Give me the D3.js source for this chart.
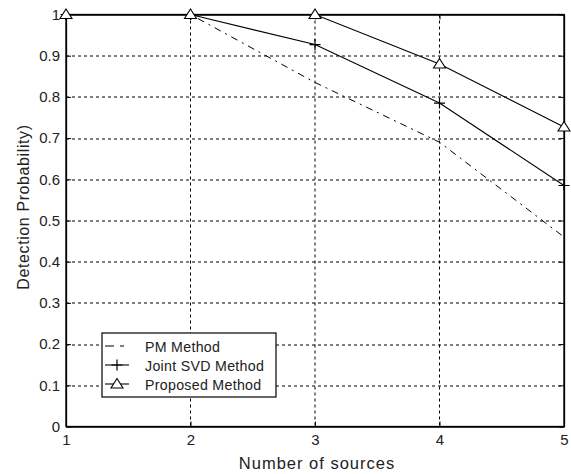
<!DOCTYPE html>
<html>
<head>
<meta charset="utf-8">
<script src="https://cdn.jsdelivr.net/npm/d3@7"></script>
<style>
  body { margin: 0; background: #fff; }
  svg { font-family: "Liberation Sans", Arial, sans-serif; }
</style>
</head>
<body>
<div id="chart"></div>
<script>
// data
var sources = [1, 2, 3, 4, 5];
var pmValues = [1, 1, 0.835, 0.69, 0.46];
var svdValues = [1, 1, 0.927, 0.785, 0.585];
var proposedValues = [1, 1, 1, 0.88, 0.727];
var yTicks = [0, 0.1, 0.2, 0.3, 0.4, 0.5, 0.6, 0.7, 0.8, 0.9, 1];
var seriesNames = ["PM Method", "Joint SVD Method", "Proposed Method"];

var width = 571, height = 474;
var margin = {top: 14.5, right: 7, bottom: 47.5, left: 66};
var w = width - margin.left - margin.right,
    h = height - margin.top - margin.bottom;

var svg = d3.select("#chart").append("svg")
    .attr("width", width)
    .attr("height", height);

var g = svg.append("g")
    .attr("transform", "translate(" + margin.left + "," + margin.top + ")");

var x = d3.scaleLinear().domain([1, 5]).range([0, w]);
var y = d3.scaleLinear().domain([0, 1]).range([h, 0]);

// grid
g.append("g").selectAll("line")
    .data(sources.slice(1, -1))
    .enter().append("line")
    .attr("x1", d => x(d)).attr("x2", d => x(d))
    .attr("y1", 0).attr("y2", h)
    .attr("stroke", "#000").attr("stroke-width", 1)
    .attr("stroke-dasharray", "3,3");
g.append("g").selectAll("line")
    .data(yTicks.slice(1, -1))
    .enter().append("line")
    .attr("y1", d => Math.round(y(d)) + 0.5).attr("y2", d => Math.round(y(d)) + 0.5)
    .attr("x1", 0).attr("x2", w)
    .attr("stroke", "#000").attr("stroke-width", 1)
    .attr("stroke-dasharray", "3,3");

// axes (ticks inside, like matlab)
var xAxis = d3.axisBottom(x).tickValues(sources).tickSizeInner(-5).tickSizeOuter(0).tickPadding(8).tickFormat(d3.format("d"));
var yAxis = d3.axisLeft(y).tickValues(yTicks).tickSizeInner(-5).tickSizeOuter(0).tickPadding(6).tickFormat(d => d);

var gx = g.append("g").attr("transform", "translate(0," + h + ")").call(xAxis);
var gy = g.append("g").call(yAxis);
g.append("g").call(d3.axisTop(x).tickValues(sources).tickSizeInner(-5).tickSizeOuter(0).tickFormat(""));
g.append("g").attr("transform", "translate(" + w + ",0)")
    .call(d3.axisRight(y).tickValues(yTicks).tickSizeInner(-5).tickSizeOuter(0).tickFormat(""));

svg.selectAll(".domain").attr("stroke", "#000").attr("stroke-width", 1.3);
svg.selectAll(".tick line").attr("stroke", "#000");
gx.selectAll("text").attr("font-size", 15).attr("fill", "#222");
gy.selectAll("text").attr("font-size", 15).attr("fill", "#222");

// box
g.append("rect").attr("x", 0).attr("y", 0).attr("width", w).attr("height", h)
    .attr("fill", "none").attr("stroke", "#000").attr("stroke-width", 1.3);

// series
var line = d3.line().x((d, i) => x(sources[i])).y(d => y(d));

g.append("path").datum(pmValues)
    .attr("d", line).attr("fill", "none").attr("stroke", "#000")
    .attr("stroke-width", 1).attr("stroke-dasharray", "7,5,2,5");
g.append("path").datum(svdValues)
    .attr("d", line).attr("fill", "none").attr("stroke", "#000").attr("stroke-width", 1.1);
g.append("path").datum(proposedValues)
    .attr("d", line).attr("fill", "none").attr("stroke", "#000").attr("stroke-width", 1.1);

function plusPath(cx, cy) {
    var s = 5.5;
    return "M" + (cx - s) + "," + cy + "H" + (cx + s) + "M" + cx + "," + (cy - s) + "V" + (cy + s);
}
function triPath(cx, cy) {
    var s = 6;
    return "M" + cx + "," + (cy - 5.5) + "L" + (cx + s) + "," + (cy + 4) + "L" + (cx - s) + "," + (cy + 4) + "Z";
}

g.append("g").selectAll("path")
    .data(svdValues).enter().append("path")
    .attr("d", (d, i) => plusPath(x(sources[i]), y(d)))
    .attr("stroke", "#000").attr("stroke-width", 1.2).attr("fill", "none");
g.append("g").selectAll("path")
    .data(proposedValues).enter().append("path")
    .attr("d", (d, i) => triPath(x(sources[i]), y(d)))
    .attr("stroke", "#000").attr("stroke-width", 1.1).attr("fill", "#fff");

// legend
var lg = svg.append("g").attr("transform", "translate(102,333)");
lg.append("rect").attr("x", 0).attr("y", 0).attr("width", 174).attr("height", 64)
    .attr("fill", "#fff").attr("stroke", "#000").attr("stroke-width", 1.2);
var rows = [13, 32, 51];
seriesNames.forEach(function (name, i) {
    var yy = rows[i];
    var l = lg.append("line").attr("x1", 3).attr("x2", 27).attr("y1", yy).attr("y2", yy)
        .attr("stroke", "#000").attr("stroke-width", 1.1);
    if (i === 0) l.attr("stroke-dasharray", "9,6,4,6");
    if (i === 1) lg.append("path").attr("d", plusPath(15, yy)).attr("stroke", "#000").attr("stroke-width", 1.2);
    if (i === 2) lg.append("path").attr("d", triPath(15, yy)).attr("stroke", "#000").attr("stroke-width", 1.1).attr("fill", "#fff");
    lg.append("text").attr("x", 43).attr("y", yy + 5.5).attr("font-size", 14.2)
        .attr("letter-spacing", 0.3).attr("fill", "#222").text(name);
});

// axis titles
svg.append("text")
    .attr("x", 317).attr("y", 469)
    .attr("text-anchor", "middle").attr("font-size", 16.5).attr("letter-spacing", 1)
    .attr("fill", "#222")
    .text("Number of sources");
svg.append("text")
    .attr("transform", "translate(29,207) rotate(-90)")
    .attr("text-anchor", "middle").attr("font-size", 16).attr("letter-spacing", 0.6)
    .attr("fill", "#222")
    .text("Detection Probability)");
</script>
</body>
</html>
